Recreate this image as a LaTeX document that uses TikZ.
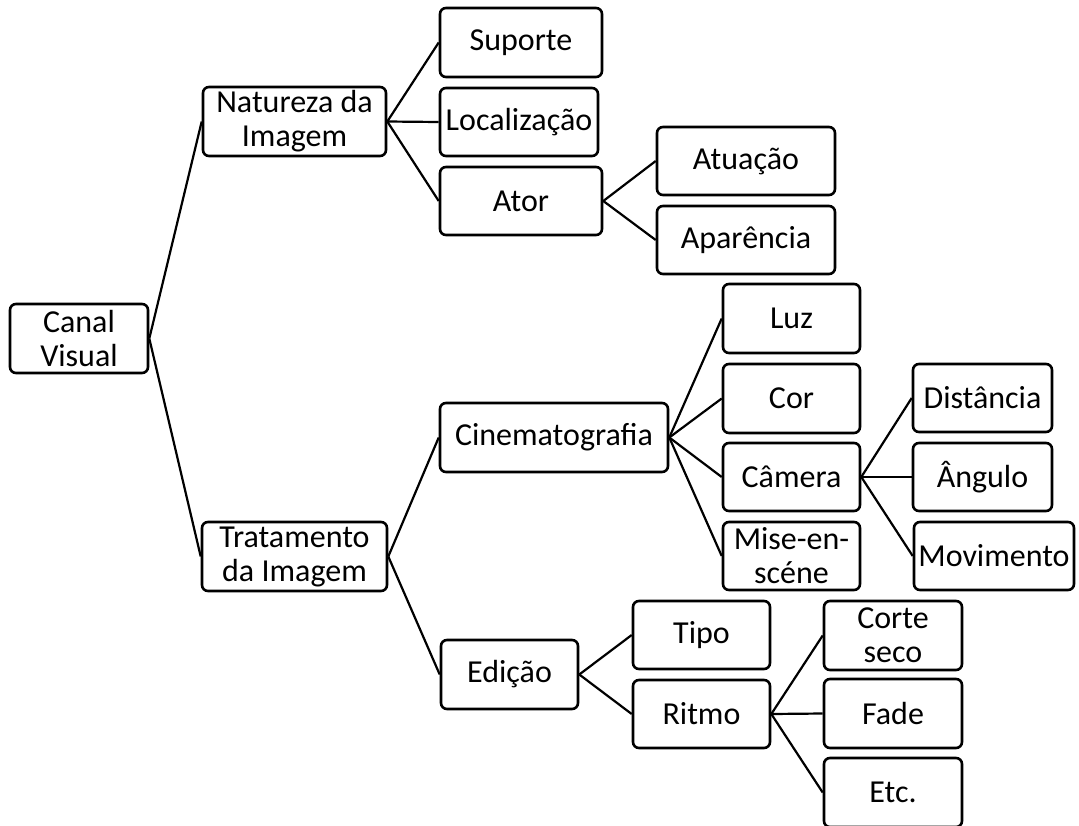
\documentclass[tikz,border=0pt]{standalone}
\usepackage{fontspec}
\setmainfont{Carlito}
\tikzset{
  box/.style={draw=black, line width=2.6pt, rounded corners=6pt, fill=white,
    inner sep=0pt, align=center, font=\fontsize{32}{34}\selectfont},
  link/.style={draw=black, line width=2.2pt}
}
\begin{document}
\begin{tikzpicture}[x=1pt,y=-1pt]
\useasboundingbox[fill=white] (0,0) rectangle (1079,825);
\newcommand{\bx}[6]{\node[box, minimum width=#4pt, minimum height=#5pt] (#1) at (#2,#3) {#6};}
\bx{cv}{79}{338.5}{138}{69}{Canal\\Visual}
\bx{nat}{294.5}{121.5}{183}{69}{Natureza da\\Imagem}
\bx{trat}{294.5}{556.5}{185}{69}{Tratamento\\da Imagem}
\bx{sup}{521}{42.5}{162}{69}{Suporte}
\bx{loc}{519}{122}{158}{68}{Localização}
\bx{ator}{521}{201}{162}{68}{Ator}
\bx{atu}{746}{161}{178}{68}{Atuação}
\bx{apa}{746}{240}{178}{68}{Aparência}
\bx{cine}{554}{437.5}{228}{69}{Cinematografia}
\bx{luz}{791.5}{318.5}{137}{69}{Luz}
\bx{cor}{791.5}{398.5}{137}{69}{Cor}
\bx{cam}{791.5}{477}{137}{68}{Câmera}
\bx{mise}{791.5}{556}{137}{68}{Mise-en-\\scéne}
\bx{dist}{982.5}{398}{139}{68}{Distância}
\bx{ang}{982.5}{477}{139}{68}{Ângulo}
\bx{mov}{994}{556}{160}{68}{Movimento}
\bx{edi}{509.5}{674.5}{137}{69}{Edição}
\bx{tipo}{701.5}{635}{137}{68}{Tipo}
\bx{ritmo}{701.5}{714}{137}{68}{Ritmo}
\bx{corte}{893}{635.5}{138}{69}{Corte\\seco}
\bx{fade}{893}{713.5}{138}{69}{Fade}
\bx{etc}{893}{792.5}{138}{69}{Etc.}
\foreach \a/\b in {cv/nat, cv/trat, nat/sup, nat/loc, nat/ator, ator/atu, ator/apa,
  trat/cine, trat/edi, cine/luz, cine/cor, cine/cam, cine/mise,
  cam/dist, cam/ang, cam/mov, edi/tipo, edi/ritmo, ritmo/corte, ritmo/fade, ritmo/etc}
  \draw[link] (\a.east) -- (\b.west);
\end{tikzpicture}
\end{document}
